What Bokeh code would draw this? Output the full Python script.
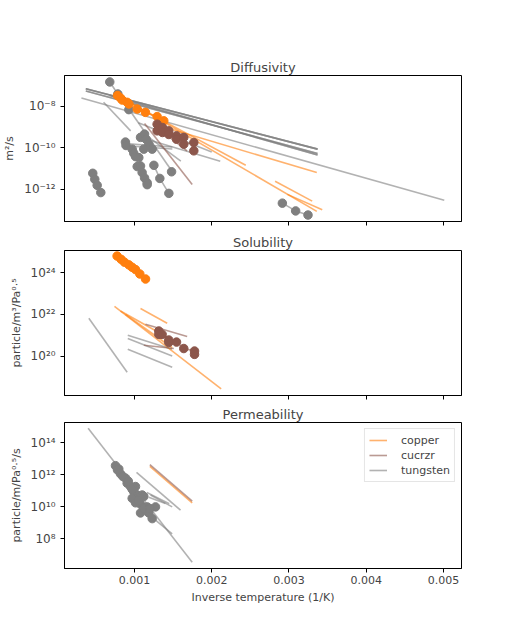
from bokeh.plotting import figure
from bokeh.layouts import column
from bokeh.models import (Range1d, FixedTicker, CustomJSTickFormatter, Legend, LegendItem)
from bokeh.embed import file_html
from bokeh.resources import INLINE

# ---------------- data (inverse temperature in 1/K) ----------------
# Diffusivity (m^2/s)
diff_copper_lines = [  # (x0, y0, x1, y1)
    (8.2e-4, 2.8e-8, 3.36e-3, 8.9e-14),
    (8.5e-4, 2.2e-8, 2.44e-3, 1.45e-11),
    (1.25e-3, 1.4e-9, 3.36e-3, 6.5e-12),
    (2.82e-3, 2.5e-12, 3.30e-3, 2.75e-13),
    (2.98e-3, 5.8e-13, 3.43e-3, 1.07e-13),
]
diff_cucrzr_lines = [
    (1.13e-3, 1.5e-9, 1.747e-3, 1.74e-12),
    (1.29e-3, 1.0e-9, 1.68e-3, 7.1e-11),
]
diff_tungsten_lines = [
    (3.13e-4, 2.5e-8, 5.01e-3, 3.0e-13),
    (3.7e-4, 6.9e-8, 3.37e-3, 8.7e-11),
    (3.7e-4, 6.9e-8, 3.37e-3, 8.7e-11),
    (3.7e-4, 6.9e-8, 3.37e-3, 8.7e-11),
    (3.7e-4, 5.4e-8, 3.37e-3, 5.4e-11),
    (3.7e-4, 5.4e-8, 3.37e-3, 5.4e-11),
    (6.8e-4, 3.3e-8, 3.37e-3, 4.5e-11),
    (6.8e-4, 3.3e-8, 3.37e-3, 4.5e-11),
    (6.0e-4, 1.55e-8, 9.5e-4, 6.6e-10),
    (9.27e-4, 7.4e-9, 1.49e-3, 7.1e-12),
    (8.8e-4, 1.6e-10, 1.49e-3, 1.1e-10),
    (8.8e-4, 1.26e-10, 1.49e-3, 8.9e-11),
    (1.16e-3, 3.8e-10, 1.60e-3, 2.3e-11),
    (1.16e-3, 2.6e-10, 2.11e-3, 2.3e-11),
    (1.05e-3, 1.6e-9, 2.0e-3, 6.3e-11),
]
diff_copper_points = [
    ([7.8e-4, 8.19e-4, 8.41e-4, 9.05e-4, 9.27e-4, 1.035e-3, 1.142e-3, 1.293e-3, 1.379e-3],
     [3.3e-8, 2.5e-8, 2.0e-8, 1.55e-8, 1.29e-8, 7.4e-9, 5.1e-9, 3.2e-9, 2.0e-9]),
]
diff_cucrzr_points = [
    ([1.293e-3, 1.293e-3, 1.362e-3, 1.362e-3, 1.444e-3, 1.444e-3, 1.544e-3, 1.544e-3,
      1.638e-3, 1.638e-3, 1.768e-3, 1.768e-3],
     [1.38e-9, 6.6e-10, 9.5e-10, 5.5e-10, 6.6e-10, 4.4e-10, 3.8e-10, 2.6e-10,
      3.2e-10, 1.5e-10, 1.8e-10, 7.2e-11]),
]
diff_tungsten_points = [
    ([6.8e-4, 7.84e-4, 9.27e-4], [1.48e-7, 3.9e-8, 6.9e-9]),
    ([4.6e-4, 4.86e-4, 5.17e-4, 5.64e-4], [6.0e-12, 3.1e-12, 1.58e-12, 7.1e-13]),
    ([8.83e-4, 8.9e-4], [1.9e-10, 1.3e-10]),
    ([9.7e-4, 9.91e-4, 1.013e-3, 1.056e-3], [8.7e-11, 5.5e-11, 3.8e-11, 3.4e-11]),
    ([1.035e-3, 1.078e-3, 1.099e-3, 1.13e-3, 1.164e-3, 1.164e-3],
     [1.26e-11, 1.35e-11, 6.5e-12, 3.6e-12, 2.1e-12, 1.7e-12]),
    ([1.078e-3, 1.13e-3, 1.151e-3, 1.186e-3, 1.229e-3, 1.12e-3],
     [3.2e-10, 4.6e-10, 2.6e-10, 1.5e-10, 8.7e-11, 8.7e-11]),
    ([1.251e-3, 1.328e-3, 1.445e-3], [1.45e-11, 3.4e-12, 6.5e-13]),
    ([1.48e-3], [7.1e-12]),
    ([2.914e-3, 3.086e-3, 3.246e-3], [2.2e-13, 9.3e-14, 5.9e-14]),
]

# Solubility (particle/m^3/Pa^0.5)
sol_copper_lines = [
    (7.41e-4, 2.45e22, 2.122e-3, 2.6e18),
    (1.078e-3, 1.95e22, 1.423e-3, 3.8e21),
    (8.19e-4, 1.48e22, 1.315e-3, 1.35e21),
    (8.84e-4, 1.0e22, 1.488e-3, 2.5e20),
]
sol_cucrzr_lines = [
    (1.142e-3, 3.4e21, 1.682e-3, 8.7e20),
    (1.121e-3, 3.3e20, 1.509e-3, 2.3e20),
]
sol_tungsten_lines = [
    (4.09e-4, 6.6e21, 9.05e-4, 1.66e19),
    (9.13e-4, 1.0e21, 1.488e-3, 2.1e20),
    (9.13e-4, 6.9e20, 1.488e-3, 1.0e20),
    (9.13e-4, 2.1e20, 1.488e-3, 2.9e19),
]
sol_copper_points = [
    ([7.75e-4, 8.27e-4, 8.7e-4, 9.27e-4, 9.7e-4, 1.013e-3, 1.069e-3, 1.143e-3],
     [6.5e24, 4.5e24, 3.3e24, 2.45e24, 1.86e24, 1.45e24, 8.9e23, 5.1e23]),
]
sol_cucrzr_points = [
    ([1.315e-3, 1.315e-3, 1.358e-3, 1.444e-3, 1.444e-3, 1.544e-3, 1.638e-3, 1.777e-3, 1.777e-3],
     [1.6e21, 1.1e21, 1.1e21, 5.9e20, 4.5e20, 4.7e20, 2.3e20, 1.74e20, 1.2e20]),
]

# Permeability (particle/m/Pa^0.5/s)
perm_copper_lines = [
    (1.199e-3, 3.4e12, 1.747e-3, 1.8e10),
]
perm_cucrzr_lines = [
    (1.199e-3, 4.3e12, 1.747e-3, 2.3e10),
]
perm_tungsten_lines = [
    (4.0e-4, 7.9e14, 1.747e-3, 3.5e6),
    (1.026e-3, 1.4e12, 1.596e-3, 6.2e9),
    (9.5e-4, 2.8e10, 1.488e-3, 2.1e8),
    (1.207e-3, 5.5e10, 1.488e-3, 1.0e10),
    (1.185e-3, 4.0e10, 1.40e-3, 1.6e10),
    (1.16e-3, 7.9e10, 1.45e-3, 1.6e10),
]
perm_tungsten_points = [
    ([7.54e-4, 7.97e-4, 8.19e-4, 8.84e-4, 9.05e-4, 9.48e-4],
     [3.7e12, 2.3e12, 1.15e12, 6.2e11, 3.0e11, 1.86e11]),
    ([1.013e-3, 9.91e-4, 1.035e-3, 1.1e-3, 1.121e-3],
     [1.86e11, 8.9e10, 5.5e10, 5.5e10, 4.4e10]),
    ([9.7e-4, 1.013e-3, 1.069e-3, 1.113e-3, 1.164e-3, 1.272e-3],
     [3.4e10, 1.8e10, 1.6e10, 1.0e10, 1.0e10, 1.0e10]),
    ([1.078e-3, 1.185e-3, 1.229e-3], [4.2e9, 4.2e9, 1.86e9]),
    ([7.8e-4, 8.5e-4, 9.2e-4, 9.7e-4, 1.05e-3, 1.12e-3, 1.2e-3],
     [2.0e12, 7.9e11, 4.0e11, 1.26e11, 2.5e10, 7.9e9, 7.9e9]),
]

x_ticks = [0.001, 0.002, 0.003, 0.004, 0.005]
diff_ticks = [1e-12, 1e-10, 1e-8]
sol_ticks = [1e20, 1e22, 1e24]
perm_ticks = [1e8, 1e10, 1e12, 1e14]

# ---------------- styling ----------------
ORANGE = "#ff7f0e"
BROWN = "#8c564b"
GRAY = "#7f7f7f"
FONT = "DejaVu Sans"
LINE_ALPHA = 0.6

x_range = Range1d(0.000094, 0.005233)

sup_js = """
const sup = {"-":"\\u207b","0":"\\u2070","1":"\\u00b9","2":"\\u00b2","3":"\\u00b3",
             "4":"\\u2074","5":"\\u2075","6":"\\u2076","7":"\\u2077","8":"\\u2078","9":"\\u2079"};
const e = Math.round(Math.log10(tick));
return "10" + String(e).split("").map(c => sup[c]).join("");
"""


def make_fig(title, ylabel, yr, yticks, top, bottom, fh, show_xlabels):
    p = figure(frame_width=397, frame_height=fh,
               x_range=x_range, y_range=Range1d(*yr), y_axis_type="log",
               output_backend="svg", toolbar_location=None,
               min_border_left=56, min_border_right=43,
               min_border_top=top, min_border_bottom=bottom)
    p.title.text = title
    p.title.align = "center"
    p.title.text_font = FONT
    p.title.text_font_size = "13px"
    p.title.text_font_style = "normal"
    p.title.standoff = 2
    p.grid.visible = False
    p.outline_line_color = "black"
    p.outline_line_width = 1
    p.background_fill_color = "white"
    p.border_fill_color = "white"
    for ax in (p.xaxis[0], p.yaxis[0]):
        ax.axis_line_color = "black"
        ax.major_tick_line_color = "black"
        ax.major_tick_out = 4
        ax.major_tick_in = 0
        ax.minor_tick_line_color = None
        ax.major_label_text_font = FONT
        ax.major_label_text_font_size = "11px"
        ax.axis_label_text_font = FONT
        ax.axis_label_text_font_size = "11px"
        ax.axis_label_text_font_style = "normal"
    p.xaxis.ticker = FixedTicker(ticks=x_ticks)
    p.xaxis.major_label_standoff = 3
    if show_xlabels:
        p.xaxis.formatter = CustomJSTickFormatter(code="return tick.toFixed(3);")
    else:
        p.xaxis.formatter = CustomJSTickFormatter(code="return '';")
        p.xaxis.major_label_standoff = 0
    p.yaxis.ticker = FixedTicker(ticks=yticks)
    p.yaxis.formatter = CustomJSTickFormatter(code=sup_js)
    p.yaxis.major_label_text_font_size = "12px"
    p.yaxis.major_label_standoff = 5
    p.yaxis.axis_label = ylabel
    p.yaxis.axis_label_standoff = 5
    return p


def draw_lines(p, segs, color):
    xs = [[s[0], s[2]] for s in segs]
    ys = [[s[1], s[3]] for s in segs]
    return p.multi_line(xs, ys, line_color=color, line_width=1.6, line_alpha=LINE_ALPHA)


def draw_points(p, groups, color):
    for gx, gy in groups:
        p.line(gx, gy, line_color=color, line_width=1.6, line_alpha=LINE_ALPHA)
        p.scatter(gx, gy, size=8.5, fill_color=color, line_color=color)


p1 = make_fig("Diffusivity", "m²/s", (10 ** -13.54, 10 ** -6.52), diff_ticks, 75, 8, 146, False)
draw_lines(p1, diff_tungsten_lines, GRAY)
draw_lines(p1, diff_copper_lines, ORANGE)
draw_lines(p1, diff_cucrzr_lines, BROWN)
draw_points(p1, diff_tungsten_points, GRAY)
draw_points(p1, diff_copper_points, ORANGE)
draw_points(p1, diff_cucrzr_points, BROWN)

p2 = make_fig("Solubility", "particle/m³/Pa⁰·⁵", (10 ** 18.1, 10 ** 25.08), sol_ticks, 21, 8, 145, False)
draw_lines(p2, sol_tungsten_lines, GRAY)
draw_lines(p2, sol_copper_lines, ORANGE)
draw_lines(p2, sol_cucrzr_lines, BROWN)
draw_points(p2, sol_copper_points, ORANGE)
draw_points(p2, sol_cucrzr_points, BROWN)

p3 = make_fig("Permeability", "particle/m/Pa⁰·⁵/s", (10 ** 6.16, 10 ** 15.26), perm_ticks, 18, 44, 146, True)
r_w = draw_lines(p3, perm_tungsten_lines, GRAY)
r_cu = draw_lines(p3, perm_copper_lines, ORANGE)
r_cz = draw_lines(p3, perm_cucrzr_lines, BROWN)
draw_points(p3, perm_tungsten_points, GRAY)
p3.xaxis.axis_label = "Inverse temperature (1/K)"
p3.xaxis.axis_label_standoff = 4

legend = Legend(items=[LegendItem(label="copper", renderers=[r_cu]),
                       LegendItem(label="cucrzr", renderers=[r_cz]),
                       LegendItem(label="tungsten", renderers=[r_w])],
                location="top_right")
legend.margin = 6
legend.padding = 4
legend.spacing = 1
legend.label_height = 14
legend.glyph_height = 14
legend.glyph_width = 18
legend.label_standoff = 14
legend.label_text_font = FONT
legend.label_text_font_size = "11px"
legend.border_line_color = "#cccccc"
legend.background_fill_alpha = 0.8
p3.add_layout(legend)

layout = column(p1, p2, p3, spacing=0)
open("out.html", "w").write(file_html(layout, INLINE))
